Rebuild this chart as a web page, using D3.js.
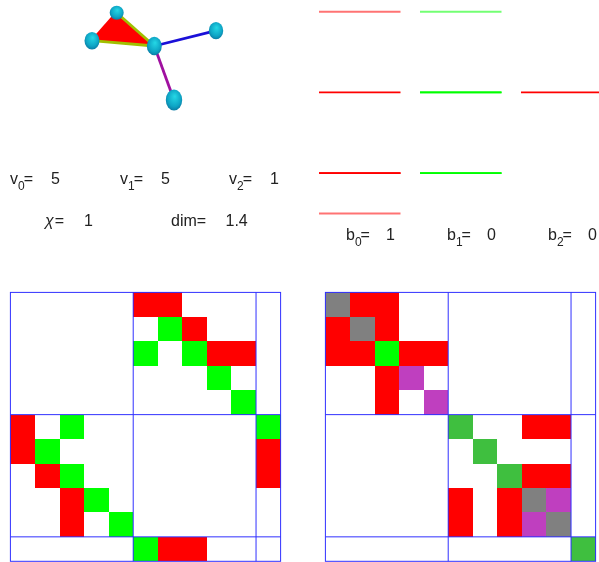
<!DOCTYPE html>
<html>
<head>
<meta charset="utf-8">
<script src="https://cdn.jsdelivr.net/npm/d3@7"></script>
<style>
  html, body { margin: 0; padding: 0; background: #fff; }
  text { font-family: "Liberation Sans", Arial, sans-serif; fill: #222; }
  svg { filter: blur(0.35px); }
</style>
</head>
<body>
<div id="chart"></div>
<script>
// graph picture, picture coordinates
const nodeNames = ['a', 'b', 'c', 'd', 'e'];
const nodeX = [116.7, 92, 154.3, 216, 174];
const nodeY = [12.7, 40.7, 46, 30.7, 100];
const nodeRx = [7, 7.5, 7.5, 7.2, 8.2];
const nodeRy = [7, 8.8, 9.2, 8.6, 10.5];
const edgeFrom = ['a', 'a', 'b', 'c', 'c'];
const edgeTo = ['b', 'c', 'c', 'd', 'e'];
const edgeColors = ['#ff0000', '#a0c000', '#a0c000', '#1a10d8', '#a010a0'];
const triangle = ['a', 'b', 'c'];

// spectrum of the Hodge Laplacian per form degree
const spectrum0 = [0, 1, 1, 3, 5];
const spectrum1 = [1, 1, 3, 3, 5];
const spectrum2 = [3];
const spectrumColors = ['#ff0000', '#00ff00', '#ff0000'];
const faintLevels = [0, 5];

// text readouts
const vLabels = ['0', '1', '2'];
const vValues = ['5', '5', '1'];
const bLabels = ['0', '1', '2'];
const bValues = ['1', '0', '0'];
const chiValue = '1';
const dimValue = '1.4';

// matrix cells: [row, col, kind]
const matrixSize = 11;
const blockSplits = [5, 10];
const diracCells = [
  [0, 5, 'r'], [0, 6, 'r'],
  [1, 6, 'g'], [1, 7, 'r'],
  [2, 5, 'g'], [2, 7, 'g'], [2, 8, 'r'], [2, 9, 'r'],
  [3, 8, 'g'],
  [4, 9, 'g'],
  [5, 0, 'r'], [5, 2, 'g'], [5, 10, 'g'],
  [6, 0, 'r'], [6, 1, 'g'], [6, 10, 'r'],
  [7, 1, 'r'], [7, 2, 'g'], [7, 10, 'r'],
  [8, 2, 'r'], [8, 3, 'g'],
  [9, 2, 'r'], [9, 4, 'g'],
  [10, 5, 'g'], [10, 6, 'r'], [10, 7, 'r']
];
const laplaceCells = [
  [0, 0, 'x'], [0, 1, 'r'], [0, 2, 'r'],
  [1, 0, 'r'], [1, 1, 'x'], [1, 2, 'r'],
  [2, 0, 'r'], [2, 1, 'r'], [2, 2, 'g'], [2, 3, 'r'], [2, 4, 'r'],
  [3, 2, 'r'], [3, 3, 'p'],
  [4, 2, 'r'], [4, 4, 'p'],
  [5, 5, 'd'], [5, 8, 'r'], [5, 9, 'r'],
  [6, 6, 'd'],
  [7, 7, 'd'], [7, 8, 'r'], [7, 9, 'r'],
  [8, 5, 'r'], [8, 7, 'r'], [8, 8, 'x'], [8, 9, 'p'],
  [9, 5, 'r'], [9, 7, 'r'], [9, 8, 'p'], [9, 9, 'x'],
  [10, 10, 'd']
];

const width = 599;
const height = 562;

const svg = d3.select('#chart')
  .append('svg')
  .attr('width', width)
  .attr('height', height)
  .style('display', 'block');

// sphere shading
const defs = svg.append('defs');
const sphere = defs.append('radialGradient')
  .attr('id', 'sphere')
  .attr('cx', '0.5').attr('cy', '0.45').attr('r', '0.62')
  .attr('fx', '0.55').attr('fy', '0.32');
sphere.append('stop').attr('offset', '0%').attr('stop-color', '#25d8e6');
sphere.append('stop').attr('offset', '65%').attr('stop-color', '#0ea5c5');
sphere.append('stop').attr('offset', '100%').attr('stop-color', '#0a6f9a');

// . . . graph
const pos = name => {
  const i = nodeNames.indexOf(name);
  return [nodeX[i], nodeY[i]];
};

svg.append('polygon')
  .attr('points', triangle.map(pos).map(p => p.join(',')).join(' '))
  .attr('fill', '#ff0000');

svg.selectAll('.edge')
  .data(edgeFrom.map((f, i) => ({ from: pos(f), to: pos(edgeTo[i]), color: edgeColors[i] })))
  .enter().append('line')
  .attr('class', 'edge')
  .attr('x1', d => d.from[0])
  .attr('y1', d => d.from[1])
  .attr('x2', d => d.to[0])
  .attr('y2', d => d.to[1])
  .attr('stroke', d => d.color)
  .attr('stroke-width', 2.8);

svg.selectAll('.node')
  .data(nodeNames)
  .enter().append('ellipse')
  .attr('class', 'node')
  .attr('cx', (d, i) => nodeX[i])
  .attr('cy', (d, i) => nodeY[i])
  .attr('rx', (d, i) => nodeRx[i])
  .attr('ry', (d, i) => nodeRy[i])
  .attr('fill', 'url(#sphere)');

// . . . spectrum
const levelY = d3.scaleLinear().domain([0, 5]).range([213.5, 11.7]);
const columnX = d3.scaleBand().domain([0, 1, 2]).range([319, 602.5]).paddingInner(0.193);

[spectrum0, spectrum1, spectrum2].forEach((spectrum, k) => {
  svg.selectAll('.level' + k)
    .data(spectrum)
    .enter().append('line')
    .attr('class', 'level' + k)
    .attr('x1', columnX(k))
    .attr('x2', Math.min(columnX(k) + columnX.bandwidth(), width))
    .attr('y1', d => levelY(d))
    .attr('y2', d => levelY(d))
    .attr('stroke', spectrumColors[k])
    .attr('stroke-opacity', d => faintLevels.includes(d) ? 0.55 : 1)
    .attr('stroke-width', d => faintLevels.includes(d) ? 2 : 1.6);
});

// . . . readouts
function readout(x, y, name, sub, value, valueX) {
  const t = svg.append('text').attr('x', x).attr('y', y).style('font-size', '16px');
  t.append('tspan').text(name);
  t.append('tspan').attr('dy', 6).style('font-size', '12px').text(sub);
  t.append('tspan').attr('dy', -6).attr('dx', -1).text('=');
  svg.append('text').attr('x', valueX).attr('y', y).style('font-size', '16px').text(value);
}

[10, 120, 229].forEach((x, i) => readout(x, 183.5, 'v', vLabels[i], vValues[i], x + 41));
[346, 447, 548].forEach((x, i) => readout(x, 240, 'b', bLabels[i], bValues[i], x + 40));

const chi = svg.append('text').attr('x', 45).attr('y', 226).style('font-size', '16px');
chi.append('tspan').style('font-style', 'italic').text('χ');
chi.append('tspan').attr('dx', 1).text('=');
svg.append('text').attr('x', 84).attr('y', 226).style('font-size', '16px').text(chiValue);
svg.append('text').attr('x', 171).attr('y', 226).style('font-size', '16px').text('dim=');
svg.append('text').attr('x', 225.5).attr('y', 226).style('font-size', '16px').text(dimValue);

// . . . matrices
const cellColors = { r: '#ff0000', g: '#00ff00', d: '#3fbf3f', x: '#808080', p: '#bf3fbf' };

function drawMatrix(left, cells) {
  const top = 292.4;
  const sideX = 270.2;
  const sideY = 268.9;
  const indices = d3.range(matrixSize);
  const cx = d3.scaleBand().domain(indices).range([left, left + sideX]);
  const cy = d3.scaleBand().domain(indices).range([top, top + sideY]);
  const g = svg.append('g');

  // crisp edges so neighbouring cells of one colour run together without a seam
  g.selectAll('rect.cell')
    .data(cells)
    .enter().append('rect')
    .attr('class', 'cell')
    .attr('x', d => cx(d[1]))
    .attr('y', d => cy(d[0]))
    .attr('width', cx.bandwidth())
    .attr('height', cy.bandwidth())
    .attr('fill', d => cellColors[d[2]])
    .attr('shape-rendering', 'crispEdges');

  g.append('rect')
    .attr('x', left).attr('y', top)
    .attr('width', sideX).attr('height', sideY)
    .attr('fill', 'none').attr('stroke', '#3030ff');

  blockSplits.forEach(s => {
    g.append('line')
      .attr('x1', cx(s)).attr('x2', cx(s))
      .attr('y1', top).attr('y2', top + sideY)
      .attr('stroke', '#3030ff');
    g.append('line')
      .attr('x1', left).attr('x2', left + sideX)
      .attr('y1', cy(s)).attr('y2', cy(s))
      .attr('stroke', '#3030ff');
  });
}

drawMatrix(10.4, diracCells);
drawMatrix(325.4, laplaceCells);
</script>
</body>
</html>
